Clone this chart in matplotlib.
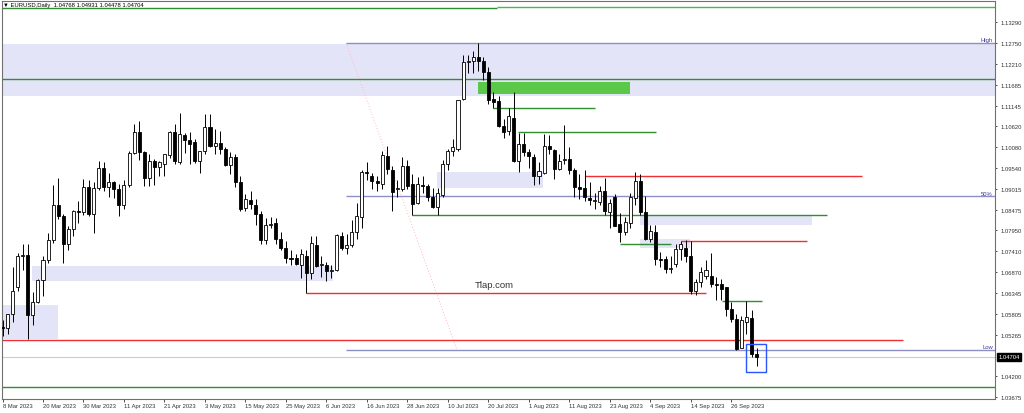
import matplotlib
matplotlib.use("Agg")

import matplotlib.pyplot as plt
import pandas as pd
from matplotlib.patches import Rectangle

# EURUSD daily, 8 Mar 2023 .. 3 Oct 2023
dates = pd.bdate_range("2023-03-08", "2023-10-03")

opens = [1.0548, 1.0545, 1.0580, 1.0650, 1.0730, 1.0733, 1.0577, 1.0610, 1.0668, 1.0718,
         1.0769, 1.0860, 1.0832, 1.0760, 1.0798, 1.0846, 1.0843, 1.0906, 1.0838, 1.0903,
         1.0955, 1.0906, 1.0920, 1.0900, 1.0860, 1.0912, 1.0994, 1.1047, 1.0996, 1.0929,
         1.0974, 1.0958, 1.0966, 1.0988, 1.1047, 1.0970, 1.1040, 1.1028, 1.1023, 1.0974,
         1.0999, 1.1061, 1.1012, 1.1019, 1.1004, 1.0962, 1.0983, 1.0919, 1.0852, 1.0872,
         1.0860, 1.0837, 1.0769, 1.0808, 1.0813, 1.0773, 1.0750, 1.0724, 1.0723, 1.0707,
         1.0730, 1.0686, 1.0758, 1.0706, 1.0707, 1.0690, 1.0694, 1.0781, 1.0750, 1.0758,
         1.0792, 1.0829, 1.0945, 1.0935, 1.0922, 1.0914, 1.0987, 1.0950, 1.0900, 1.0901,
         1.0961, 1.0914, 1.0866, 1.0912, 1.0910, 1.0880, 1.0854, 1.0885, 1.0965, 1.0999,
         1.1005, 1.1132, 1.1227, 1.1231, 1.1240, 1.1229, 1.1201, 1.1131, 1.1128, 1.1064,
         1.1051, 1.1083, 1.0974, 1.1016, 1.0995, 1.0983, 1.0935, 1.0943, 1.1012, 1.1002,
         1.0952, 1.0975, 1.0979, 1.0949, 1.0906, 1.0903, 1.0878, 1.0870, 1.0867, 1.0895,
         1.0842, 1.0880, 1.0811, 1.0792, 1.0814, 1.0877, 1.0922, 1.0841, 1.0773, 1.0790,
         1.0721, 1.0721, 1.0695, 1.0709, 1.0747, 1.0751, 1.0728, 1.0640, 1.0662, 1.0679,
         1.0679, 1.0658, 1.0658, 1.0649, 1.0593, 1.0568, 1.0492, 1.0559, 1.0570, 1.04768]

highs = [1.0566, 1.0580, 1.0700, 1.0737, 1.0760, 1.0760, 1.0637, 1.0670, 1.0730, 1.0787,
         1.0912, 1.0930, 1.0836, 1.0805, 1.0848, 1.0870, 1.0926, 1.0925, 1.0918, 1.0973,
         1.0970, 1.0942, 1.0921, 1.0915, 1.0925, 1.0998, 1.1068, 1.1077, 1.0998, 1.0990,
         1.0978, 1.0974, 1.0990, 1.1050, 1.1068, 1.1096, 1.1045, 1.1048, 1.1030, 1.1000,
         1.1094, 1.1094, 1.1055, 1.1051, 1.1010, 1.0995, 1.0990, 1.0935, 1.0888, 1.0895,
         1.0876, 1.0845, 1.0828, 1.0830, 1.0828, 1.0790, 1.0768, 1.0745, 1.0735, 1.0746,
         1.0745, 1.0780, 1.0780, 1.0728, 1.0715, 1.0705, 1.0786, 1.0790, 1.0785, 1.0822,
         1.0865, 1.0950, 1.0970, 1.0942, 1.0935, 1.1000, 1.1012, 1.0960, 1.0925, 1.0983,
         1.0975, 1.0940, 1.0932, 1.0935, 1.0915, 1.0905, 1.0905, 1.0975, 1.1005, 1.1030,
         1.1130, 1.1245, 1.1245, 1.1255, 1.1276, 1.1240, 1.1215, 1.1150, 1.1140, 1.1080,
         1.1110, 1.1150, 1.1045, 1.1045, 1.1005, 1.0990, 1.0970, 1.1042, 1.1040, 1.1005,
         1.0990, 1.1066, 1.1010, 1.0955, 1.0940, 1.0950, 1.0920, 1.0890, 1.0910, 1.0929,
         1.0875, 1.0888, 1.0840, 1.0830, 1.0890, 1.0945, 1.0940, 1.0882, 1.0810, 1.0810,
         1.0740, 1.0730, 1.0730, 1.0760, 1.0768, 1.0770, 1.0768, 1.0670, 1.0700, 1.0718,
         1.0736, 1.0675, 1.0670, 1.0650, 1.0610, 1.0580, 1.0575, 1.0614, 1.0591, 1.04931]

lows = [1.0525, 1.0528, 1.0560, 1.0640, 1.0694, 1.0516, 1.0551, 1.0608, 1.0627, 1.0712,
        1.0762, 1.0825, 1.0712, 1.0745, 1.0780, 1.0815, 1.0835, 1.0833, 1.0788, 1.0898,
        1.0897, 1.0880, 1.0877, 1.0833, 1.0850, 1.0907, 1.0990, 1.0975, 1.0909, 1.0910,
        1.0912, 1.0935, 1.0935, 1.0980, 1.0965, 1.0965, 1.0994, 1.0966, 1.0967, 1.0942,
        1.0990, 1.1010, 1.0990, 1.0990, 1.0960, 1.0940, 1.0907, 1.0846, 1.0845, 1.0850,
        1.0810, 1.0760, 1.0760, 1.0800, 1.0760, 1.0745, 1.0710, 1.0705, 1.0706, 1.0672,
        1.0635, 1.0670, 1.0700, 1.0676, 1.0666, 1.0673, 1.0690, 1.0745, 1.0735, 1.0752,
        1.0773, 1.0800, 1.0925, 1.0900, 1.0895, 1.0900, 1.0940, 1.0846, 1.0880, 1.0895,
        1.0900, 1.0834, 1.0863, 1.0890, 1.0870, 1.0852, 1.0834, 1.0880, 1.0950, 1.0985,
        1.1000, 1.1130, 1.1200, 1.1200, 1.1205, 1.1180, 1.1120, 1.1110, 1.1060, 1.1032,
        1.1040, 1.0970, 1.0945, 1.0985, 1.0955, 1.0912, 1.0913, 1.0940, 1.0990, 1.0926,
        1.0950, 1.0965, 1.0940, 1.0880, 1.0875, 1.0870, 1.0860, 1.0850, 1.0860, 1.0835,
        1.0800, 1.0805, 1.0765, 1.0782, 1.0800, 1.0860, 1.0835, 1.0770, 1.0765, 1.0705,
        1.0700, 1.0685, 1.0685, 1.0700, 1.0720, 1.0715, 1.0632, 1.0630, 1.0650, 1.0670,
        1.0650, 1.0615, 1.0615, 1.0575, 1.0560, 1.0488, 1.0495, 1.0530, 1.0470, 1.04478]

closes = [1.0545, 1.0580, 1.0640, 1.0730, 1.0732, 1.0577, 1.0610, 1.0668, 1.0718, 1.0769,
          1.0860, 1.0832, 1.0760, 1.0798, 1.0846, 1.0843, 1.0906, 1.0838, 1.0903, 1.0955,
          1.0906, 1.0920, 1.0900, 1.0860, 1.0912, 1.0994, 1.1047, 1.0996, 1.0929, 1.0974,
          1.0958, 1.0970, 1.0991, 1.1047, 1.0974, 1.1042, 1.1028, 1.1018, 1.0974, 1.1000,
          1.1061, 1.1012, 1.1019, 1.1005, 1.0962, 1.0983, 1.0919, 1.0850, 1.0876, 1.0862,
          1.0837, 1.0769, 1.0808, 1.0812, 1.0772, 1.0750, 1.0724, 1.0722, 1.0709, 1.0734,
          1.0686, 1.0763, 1.0704, 1.0708, 1.0690, 1.0694, 1.0782, 1.0749, 1.0758, 1.0792,
          1.0831, 1.0945, 1.0942, 1.0922, 1.0917, 1.0988, 1.0953, 1.0893, 1.0905, 1.0961,
          1.0910, 1.0863, 1.0914, 1.0910, 1.0880, 1.0854, 1.0891, 1.0965, 1.0999, 1.1008,
          1.1130, 1.1226, 1.1230, 1.1241, 1.1230, 1.1201, 1.1130, 1.1125, 1.1064, 1.1048,
          1.1088, 1.0974, 1.1016, 1.0995, 1.0985, 1.0935, 1.0948, 1.1012, 1.1004, 1.0952,
          1.0974, 1.0979, 1.0949, 1.0906, 1.0900, 1.0880, 1.0872, 1.0874, 1.0895, 1.0845,
          1.0865, 1.0807, 1.0792, 1.0817, 1.0880, 1.0922, 1.0841, 1.0773, 1.0794, 1.0721,
          1.0720, 1.0695, 1.0699, 1.0747, 1.0760, 1.0728, 1.0640, 1.0662, 1.0689, 1.0692,
          1.0658, 1.0655, 1.0645, 1.0593, 1.0568, 1.0490, 1.0566, 1.0572, 1.0477, 1.04704]

price_ticks = [1.13290, 1.12750, 1.12210, 1.11685, 1.11145, 1.10620, 1.10080, 1.09540,
               1.09015, 1.08475, 1.07950, 1.07410, 1.06870, 1.06345, 1.05805, 1.05265,
               1.04200, 1.03675]

header = "\u25bc EURUSD,Daily  1.04768 1.04931 1.04478 1.04704"
bid = 1.04704

# drawn objects (bar index from, bar index to, price)
fib_high, fib_low = 1.1276, 1.0488
fib_start, fib_end = 67.9, 89.8

bands = [  # x0, x1, low, high
    (-0.1, 196.1, 1.11392, 1.12734),
    (-0.1, 10.9, 1.05161, 1.06034),
    (5.9, 65.3, 1.06658, 1.07036),
    (85.9, 106.8, 1.09030, 1.09441),
    (126.0, 160.0, 1.08088, 1.08330),
    (126.0, 135.9, 1.07497, 1.07729),
]
green_box = (93.9, 123.9, 1.11451, 1.11751)
blue_box = (146.9, 150.9, 1.04307, 1.05026)

red_lines = [(60.0, 139.0, 1.06337), (-0.1, 178.0, 1.05123),
             (115.1, 169.9, 1.09354), (134.0, 159.0, 1.07685)]
green_lines = [(97.0, 117.0, 1.11099), (101.9, 129.1, 1.10468), (81.0, 162.9, 1.08337),
               (122.0, 132.0, 1.07608), (142.1, 150.1, 1.06145),
               (-0.1, 196.1, 1.11844), (-0.1, 196.1, 1.03922), (-0.1, 97.7, 1.13651)]
light_green_lines = [(97.7, 196.1, 1.13677)]

W, H = 1024, 414
fig = plt.figure(figsize=(W / 100, H / 100), dpi=100)
ax = fig.add_axes([2 / W, 1 - 400 / H, 993 / W, 398.5 / H])
ax.set_xlim(-0.1, 196.1)
ax.set_ylim(1.03621, 1.13851)

for x0, x1, lo, hi in bands:
    ax.add_patch(Rectangle((x0, lo), x1 - x0, hi - lo, facecolor="#e4e4f8",
                           edgecolor="none", zorder=0))
x0, x1, lo, hi = green_box
ax.add_patch(Rectangle((x0, lo), x1 - x0, hi - lo, facecolor="#5cc84a",
                       edgecolor="none", zorder=1))

for x0, x1, y in red_lines:
    ax.hlines(y, x0, x1, colors="#f03030", lw=1.0, zorder=2)
for x0, x1, y in green_lines:
    ax.hlines(y, x0, x1, colors="#2f8f2f", lw=1.0, zorder=2)
for x0, x1, y in light_green_lines:
    ax.hlines(y, x0, x1, colors="#4cb84c", lw=1.0, zorder=2)

# fibonacci
fib_mid = (fib_high + fib_low) / 2
for y, lab in [(fib_high, "High"), (fib_mid, "50%"), (fib_low, "Low")]:
    ax.hlines(y, fib_start, 196.1, colors="#8f8fc8", lw=1.0, zorder=2)
    ax.annotate(lab, (195.7, y), xytext=(0, 0.6), textcoords="offset points",
                ha="right", va="bottom", fontsize=4.2, color="#3a3a9a",
                family=["Liberation Sans", "DejaVu Sans"])
ax.plot([fib_start, fib_end], [fib_high, fib_low], color="#ffb8b8", lw=0.7,
        ls=(0, (1, 2)), zorder=1)

# bid line
ax.axhline(bid, color="#cccccc", lw=0.8, zorder=1)

# candles
idx = list(range(len(opens)))
ax.vlines(idx, lows, highs, colors="black", lw=0.7, zorder=3)
bottoms = [min(o, c) for o, c in zip(opens, closes)]
heights = [max(abs(c - o), 0.00006) for o, c in zip(opens, closes)]
fills = ["white" if c >= o else "black" for o, c in zip(opens, closes)]
ax.bar(idx, heights, bottom=bottoms, width=0.6, color=fills, edgecolor="black",
       linewidth=0.6, zorder=4)

x0, x1, lo, hi = blue_box
ax.add_patch(Rectangle((x0, lo), x1 - x0, hi - lo, facecolor="none",
                       edgecolor="#2a55ff", lw=1.0, zorder=5))

ax.text(93.3, 1.0656, "Tlap.com", fontsize=6.8, color="#333333",
        family=["Liberation Sans", "DejaVu Sans"], ha="left", va="center")

# axes
for s in ax.spines.values():
    s.set_color("#707070")
    s.set_linewidth(0.8)
ax.yaxis.tick_right()
ax.set_yticks(price_ticks)
ax.set_yticklabels([f"{p:.5f}" for p in price_ticks])
ax.tick_params(axis="y", length=1.6, width=0.6, pad=2.6, labelsize=4.2,
               colors="#333333")
xt = list(range(0, len(dates), 8))
ax.set_xticks(xt)
ax.set_xticklabels([f"{dates[i].day} {dates[i]:%b %Y}" for i in xt], ha="left")
ax.tick_params(axis="x", length=2, width=0.6, pad=1.2, labelsize=4.2,
               colors="#333333")
for lbl in ax.get_xticklabels() + ax.get_yticklabels():
    lbl.set_family(["Liberation Sans", "DejaVu Sans"])

ax.annotate(f"{bid:.5f}", (1.0, bid), xycoords=("axes fraction", "data"),
            xytext=(2.6, 0), textcoords="offset points", ha="left", va="center",
            fontsize=4.2, color="white", family=["Liberation Sans", "DejaVu Sans"],
            bbox=dict(boxstyle="square,pad=0.25", facecolor="black", edgecolor="black"))

fig.text(3 / W, 1 - 5.5 / H, header, fontsize=4.2, color="black", ha="left",
         va="center", family=["Liberation Sans", "DejaVu Sans"])

fig.savefig("out.png", dpi=100)
